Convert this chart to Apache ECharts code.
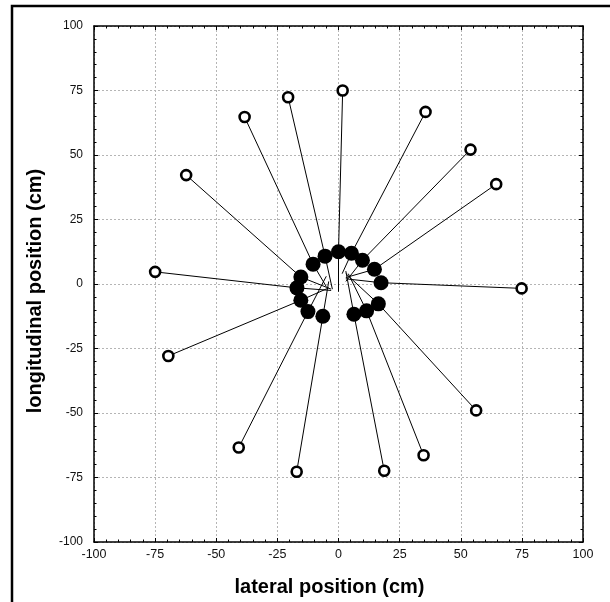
<!DOCTYPE html>
<html>
<head>
<meta charset="utf-8">
<script src="https://cdn.jsdelivr.net/npm/echarts@6/dist/echarts.min.js"></script>
<style>
  html, body { margin: 0; padding: 0; background: #fff; }
  #chart { width: 610px; height: 602px; }
</style>
</head>
<body>
<div id="chart"></div>
<script>
// start position near the centre of each trial (cm)
const startX = [0, -2.5, -5, -3, -3, -4, -5, -4, 3, 4, 3, 3, 3, 3, 1.5];
const startY = [-3, -2, -1, -2, -2.5, -1.5, 3, 1, 5, 4, 4, 2, 2.5, 1, 4];
// intermediate position (filled circles)
const midX = [0, -5.5, -10.4, -15.4, -17, -15.4, -12.5, -6.4, 6.3, 11.5, 16.3, 17.4, 14.7, 9.8, 5.3];
const midY = [12.5, 10.8, 7.7, 2.7, -1.5, -6.3, -10.7, -12.5, -11.7, -10.4, -7.7, 0.5, 5.7, 9.2, 11.9];
// final position (open circles)
const endX = [1.7, -20.6, -38.4, -62.3, -75, -69.6, -40.8, -17.1, 18.7, 34.8, 56.3, 74.9, 64.5, 54, 35.6];
const endY = [75, 72.4, 64.7, 42.2, 4.7, -27.9, -63.4, -72.8, -72.4, -66.4, -49, -1.7, 38.7, 52.1, 66.7];

const axisMin = -100, axisMax = 100, axisStep = 25;
const font = "Liberation Sans, Arial, sans-serif";

const chart = echarts.init(document.getElementById("chart"));

function frameAxis(pos, showLabel) {
  return {
    type: "value",
    position: pos,
    min: axisMin,
    max: axisMax,
    interval: axisStep,
    axisLine: { show: true, onZero: false, lineStyle: { color: "#000", width: 1.5 } },
    axisTick: { show: true, inside: true, length: 4, lineStyle: { color: "#000", width: 1 } },
    minorTick: { show: true, splitNumber: 5, length: 2.5, lineStyle: { color: "#000", width: 1 } },
    axisLabel: { show: showLabel, color: "#111", fontSize: 12, fontFamily: font },
    splitLine: { show: false },
  };
}

const xBottom = frameAxis("bottom", true);
xBottom.axisLabel.margin = 6;
xBottom.axisLabel.fontSize = 12.5;
xBottom.splitLine = { show: true, lineStyle: { color: "#b5b5b5", type: [2, 2], width: 1 } };
xBottom.name = "lateral position (cm)";
xBottom.nameLocation = "middle";
xBottom.nameGap = 35;
xBottom.nameTextStyle = { color: "#000", fontSize: 20, fontWeight: "bold", fontFamily: font, padding: [0, 18, 0, 0] };

const yLeft = frameAxis("left", true);
yLeft.axisLabel.margin = 11;
yLeft.splitLine = { show: true, lineStyle: { color: "#b5b5b5", type: [2, 2], width: 1 } };
yLeft.name = "longitudinal position (cm)";
yLeft.nameLocation = "middle";
yLeft.nameGap = 49;
yLeft.nameTextStyle = { color: "#000", fontSize: 20, fontWeight: "bold", fontFamily: font, padding: [0, 14, 0, 0] };

const series = [];
for (let i = 0; i < endX.length; i++) {
  series.push({
    type: "line",
    data: [[startX[i], startY[i]], [midX[i], midY[i]], [endX[i], endY[i]]],
    showSymbol: false,
    symbol: "none",
    lineStyle: { color: "#000", width: 1 },
    silent: true,
    z: 2,
  });
}
series.push({
  type: "scatter",
  data: midX.map((x, i) => [x, midY[i]]),
  symbol: "circle",
  symbolSize: 15,
  itemStyle: { color: "#000", opacity: 1 },
  z: 3,
});
series.push({
  type: "scatter",
  data: endX.map((x, i) => [x, endY[i]]),
  symbol: "circle",
  symbolSize: 10,
  itemStyle: { color: "#fff", borderColor: "#000", borderWidth: 2.6, opacity: 1 },
  z: 4,
});

chart.setOption({
  animation: false,
  backgroundColor: "#fff",
  grid: { left: 94, right: 27, top: 26, bottom: 60 },
  xAxis: [xBottom, frameAxis("top", false)],
  yAxis: [yLeft, frameAxis("right", false)],
  graphic: [
    {
      type: "rect",
      shape: { x: 12, y: 6, width: 620, height: 620 },
      style: { fill: null, stroke: "#000", lineWidth: 2.5 },
      silent: true,
    },
  ],
  series: series,
});
</script>
</body>
</html>
